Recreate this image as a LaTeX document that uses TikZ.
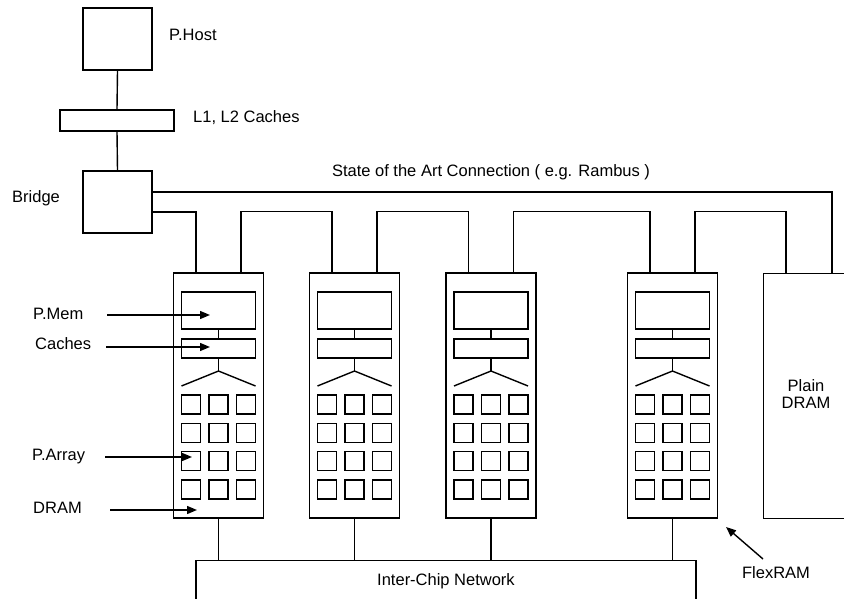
\documentclass[tikz,border=0pt]{standalone}
\usepackage{fontspec}
\setmainfont{Liberation Sans}
\usetikzlibrary{arrows.meta,calc}
\begin{document}
\begin{tikzpicture}[x=1pt,y=-1pt,
  every node/.style={font=\fontsize{16.5}{19.5}\selectfont, inner sep=0pt},
  box/.style={draw, line width=1.4pt, rectangle, inner sep=0pt},
  wire/.style={line width=1.4pt},
  arr/.style={line width=1.4pt, -{Triangle[length=10pt,width=8pt]}}
]
\useasboundingbox (0,0) rectangle (844,599);
\clip (0,0) rectangle (844,599);

% host side
\node[box, minimum width=69pt, minimum height=62pt] (host) at (117.5,39) {};
\node[box, minimum width=114pt, minimum height=21pt] (l12) at (117,120.5) {};
\node[box, minimum width=69pt, minimum height=62pt] (bridge) at (117.5,202) {};
\draw[wire] (host.south) -- (l12.north);
\draw[wire] (l12.south) -- (bridge.north);
\node[anchor=west] (hostlbl) at (169,35) {P.Host};
\node[anchor=west] (l12lbl) at (193,118) {L1, L2 Caches};
\node[anchor=west] (bridgelbl) at (12,198) {Bridge};
\node (statelbl) at (491,172) {State of the Art Connection ( e.g. Rambus )};

% FlexRAM chips
\foreach \i/\cx in {1/218.5, 2/354.5, 3/491, 4/672.5} {
  \node[box, minimum width=90pt, minimum height=245pt] (chip\i) at (\cx,395.5) {};
  \node[box, minimum width=74pt, minimum height=37pt] (pmem\i) at (\cx,310.5) {};
  \node[box, minimum width=74pt, minimum height=19pt] (cache\i) at (\cx,348.5) {};
  \coordinate (apex\i) at (\cx,371);
  \draw[wire] (pmem\i.south) -- (cache\i.north);
  \draw[wire] (cache\i.south) -- (apex\i);
  \draw[wire] ($(apex\i)+(-37,15)$) -- (apex\i) -- ($(apex\i)+(37,15)$);
  \foreach \r/\ry in {1/404.5, 2/432.8, 3/461.1, 4/489.4} {
    \foreach \c/\dx in {1/-27.5, 2/0, 3/27.5} {
      \node[box, minimum width=19pt, minimum height=19pt] (pe\i\r\c) at ($(\cx,\ry)+(\dx,0)$) {};
    }
  }
}

% plain DRAM
\node[box, minimum width=140pt, minimum height=245pt, anchor=north west] (dram) at (763,273) {};
\node[align=center] (dramlbl) at (806,394) {Plain\\[-2pt]DRAM};

% inter-chip network
\node[box, minimum width=500pt, minimum height=70pt, anchor=north] (net) at (446,560) {};
\node (netlbl) at (446,581) {Inter-Chip Network};
\foreach \i in {1,2,3,4} {
  \draw[wire] (chip\i.south) -- (chip\i.south |- net.north);
}

% state-of-the-art connection
\draw[wire] ([yshift=10pt]bridge.east) -| ([xshift=69pt]dram.north west);
% daisy chain
\draw[wire] ([yshift=-10pt]bridge.east) -| ([xshift=-22.5pt]chip1.north);
\draw[wire] ([xshift=22.5pt]chip1.north) -- ++(0,-61) -| ([xshift=-22.5pt]chip2.north);
\draw[wire] ([xshift=22.5pt]chip2.north) -- ++(0,-61) -| ([xshift=-22.5pt]chip3.north);
\draw[wire] ([xshift=22.5pt]chip3.north) -- ++(0,-61) -| ([xshift=-22.5pt]chip4.north);
\draw[wire] ([xshift=22.5pt]chip4.north) -- ++(0,-61) -| ([xshift=23pt]dram.north west);

% left labels with arrows
\node[anchor=west] (pmemlbl) at (33,314) {P.Mem};
\node[anchor=west] (cachelbl) at (35,344) {Caches};
\node[anchor=west] (arraylbl) at (32,457) {P.Array};
\node[anchor=west] (dramlbl2) at (33,508) {DRAM};
\coordinate (tpmem) at (210,315);
\coordinate (tcache) at (210,347);
\coordinate (tarray) at (192,457);
\coordinate (tdram) at (197,510);
\draw[arr] (107,315) -- (tpmem);
\draw[arr] (106,347) -- (tcache);
\draw[arr] (105,457) -- (tarray);
\draw[arr] (110,510) -- (tdram);

% FlexRAM label
\node (flexlbl) at (776,573) {FlexRAM};
\coordinate (tflex) at (726,527);
\draw[arr] (763,559) -- (tflex);
\end{tikzpicture}
\end{document}
